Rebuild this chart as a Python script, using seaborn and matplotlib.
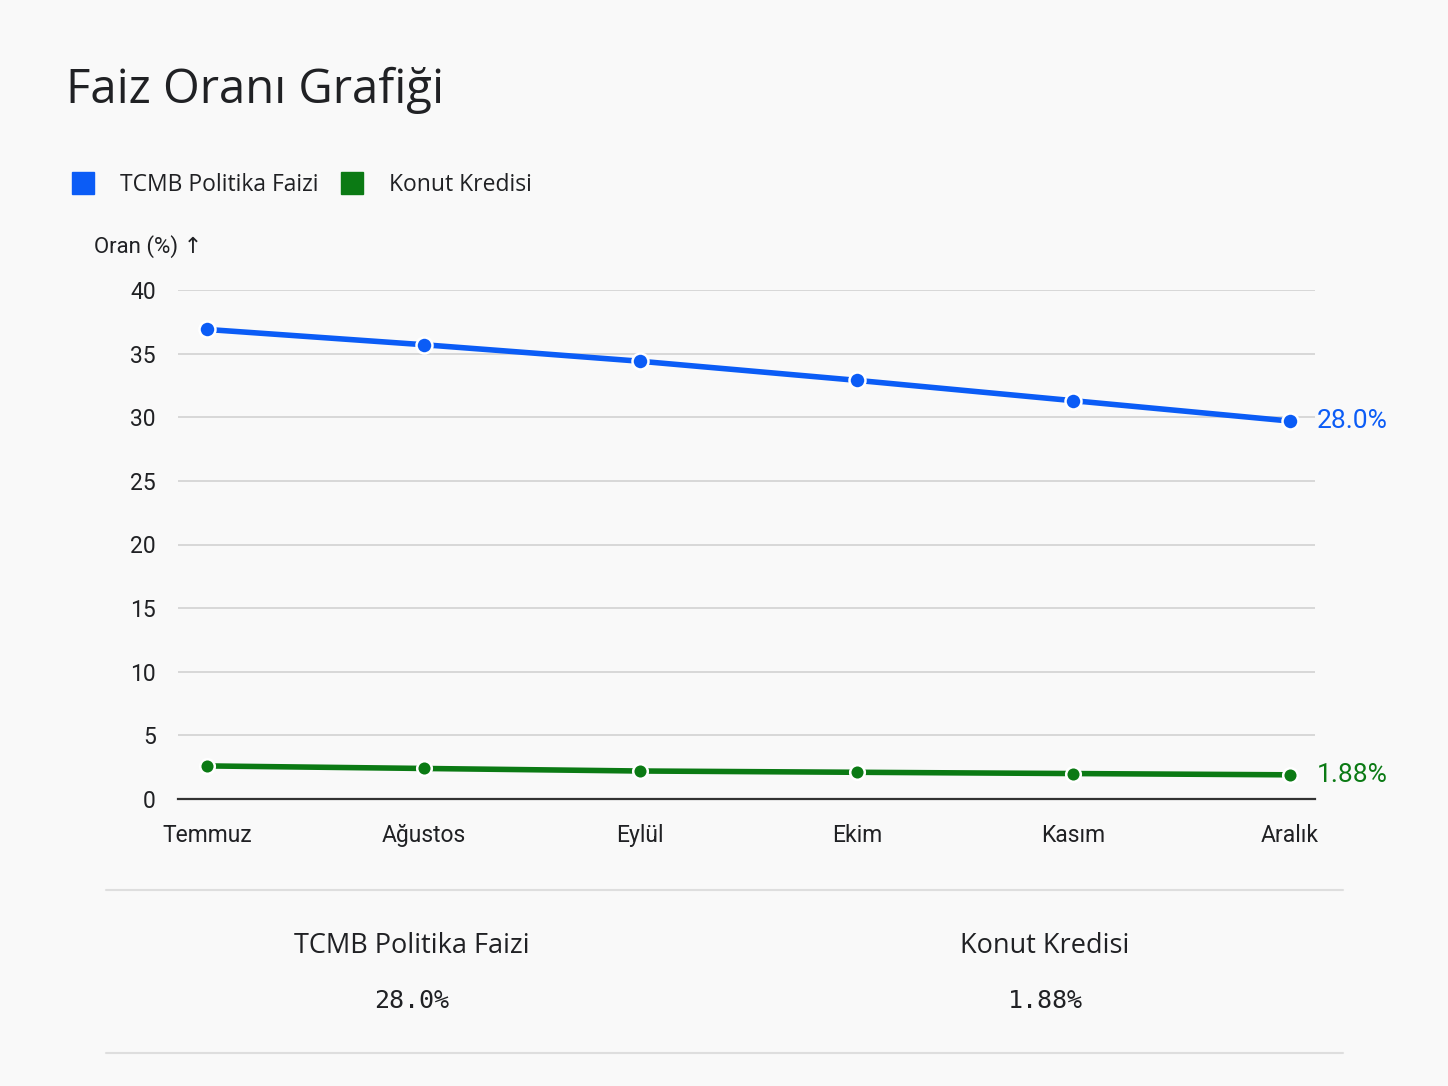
import matplotlib
matplotlib.use("Agg")
import matplotlib.pyplot as plt
from matplotlib.lines import Line2D
import seaborn as sns
import pandas as pd

# Data
months = ["Temmuz", "Ağustos", "Eylül", "Ekim", "Kasım", "Aralık"]
tcmb_rate = [36.9, 35.7, 34.4, 32.9, 31.3, 29.7]
konut_rate = [2.6, 2.4, 2.2, 2.1, 2.0, 1.9]
series_names = ["TCMB Politika Faizi", "Konut Kredisi"]
latest_labels = ["28.0%", "1.88%"]
y_ticks = [0, 5, 10, 15, 20, 25, 30, 35, 40]

BG = "#f9f9f9"
BLUE = "#0b5cf6"
GREEN = "#0b7a14"
TEXT = "#202124"

df = pd.DataFrame({
    "month": months * 2,
    "idx": list(range(len(months))) * 2,
    "rate": tcmb_rate + konut_rate,
    "series": [series_names[0]] * len(months) + [series_names[1]] * len(months),
})

sns.set_theme(style="white")
plt.rcParams["font.family"] = ["Roboto", "DejaVu Sans"]

fig = plt.figure(figsize=(14.48, 10.86), dpi=100, facecolor=BG)
ax = fig.add_axes([178 / 1448, 1 - 799 / 1086, (1315 - 178) / 1448, (799 - 290) / 1086])
ax.set_facecolor(BG)

palette = {series_names[0]: BLUE, series_names[1]: GREEN}
sns.lineplot(data=df, x="idx", y="rate", hue="series", palette=palette,
             linewidth=4, marker="o", markersize=11.5, markeredgecolor="white",
             markeredgewidth=1.8, legend=False, ax=ax)

# green markers are a touch smaller
for line in ax.get_lines():
    if line.get_color() == GREEN:
        line.set_markersize(10.5)

ax.set_xlim(-0.134, 5.115)
ax.set_ylim(0, 40)
ax.set_yticks(y_ticks)
ax.set_xticks(range(len(months)))
ax.set_xticklabels(months)
ax.set_xlabel("")
ax.set_ylabel("")
ax.tick_params(axis="y", length=0, pad=16, labelsize=16.5, labelcolor=TEXT)
ax.tick_params(axis="x", length=0, pad=18, labelsize=16.5, labelcolor=TEXT)
ax.grid(axis="y", color="#cfcfcf", linewidth=1.1)
ax.grid(axis="x", visible=False)
for side in ["top", "right", "left"]:
    ax.spines[side].set_visible(False)
ax.spines["bottom"].set_color("#333333")
ax.spines["bottom"].set_linewidth(1.6)
ax.set_axisbelow(True)

# end labels
for vals, lab, col in zip([tcmb_rate, konut_rate], latest_labels, [BLUE, GREEN]):
    ax.annotate(lab, xy=(len(months) - 1, vals[-1]), xytext=(19, 0),
                textcoords="offset points", va="center", ha="left",
                fontsize=19, color=col, annotation_clip=False)

# title and y label
fig.text(66 / 1448, 1 - 90 / 1086, "Faiz Oranı Grafiği", fontsize=34,
         color=TEXT, va="center", ha="left", family=["Open Sans", "DejaVu Sans"])
fig.text(94 / 1448, 1 - 247 / 1086, "Oran (%) ↑", fontsize=16, color=TEXT,
         va="center", ha="left", family=["Roboto", "DejaVu Sans"])

# legend
handles = [Line2D([], [], marker="s", linestyle="none", markersize=16,
                  markerfacecolor=c, markeredgecolor=c) for c in (BLUE, GREEN)]
fig.legend(handles, series_names, loc="center left",
           bbox_to_anchor=(51 / 1448, 1 - 185 / 1086), ncol=2, frameon=False,
           handletextpad=1.12, columnspacing=0.95, handlelength=1.0,
           labelcolor=TEXT, prop={"family": ["Open Sans", "DejaVu Sans"], "size": 16.5})

# bottom summary
for y in (890, 1053):
    fig.add_artist(Line2D([106 / 1448, 1343 / 1448], [1 - y / 1086] * 2,
                          color="#dedede", linewidth=1.5, transform=fig.transFigure))
for cx, name, val in zip([412, 1045], series_names, latest_labels):
    fig.text(cx / 1448, 1 - 946 / 1086, name, fontsize=19.5, color=TEXT,
             ha="center", va="center", family=["Open Sans", "DejaVu Sans"])
    fig.text(cx / 1448, 1 - 1001 / 1086, val, fontsize=18, color=TEXT,
             ha="center", va="center", family="DejaVu Sans Mono")

fig.savefig("out.png", dpi=100, facecolor=BG)
